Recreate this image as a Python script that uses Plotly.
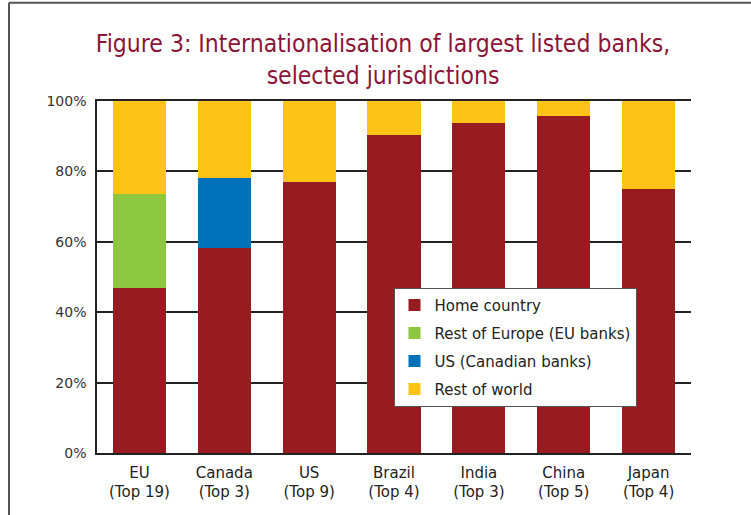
import plotly.graph_objects as go

# Share of activity by location, largest listed banks (%)
categories = ["EU<br>(Top 19)", "Canada<br>(Top 3)", "US<br>(Top 9)", "Brazil<br>(Top 4)",
              "India<br>(Top 3)", "China<br>(Top 5)", "Japan<br>(Top 4)"]
home_country = [46.8, 58.1, 76.9, 90.4, 93.8, 95.8, 75.0]
rest_of_europe = [26.7, 0, 0, 0, 0, 0, 0]
us_canadian = [0, 20.1, 0, 0, 0, 0, 0]
rest_of_world = [round(100 - h - e - u, 1) for h, e, u in zip(home_country, rest_of_europe, us_canadian)]
y_ticks = [0, 20, 40, 60, 80, 100]
y_tick_labels = ["0%", "20%", "40%", "60%", "80%", "100%"]

series = [
    ("Home country", home_country, "#971B20"),
    ("Rest of Europe (EU banks)", rest_of_europe, "#8DC63F"),
    ("US (Canadian banks)", us_canadian, "#0072BC"),
    ("Rest of world", rest_of_world, "#FDC316"),
]

fig = go.Figure()
for name, values, colour in series:
    fig.add_trace(go.Bar(
        x=categories, y=values, name=name, legendgroup=name,
        marker=dict(color=colour, line=dict(width=0)),
        hoverinfo="x+y+name",
    ))

L, R, T, B = 97, 60, 100.5, 62
W, H = 751, 515
pw, ph = W - L - R, H - T - B

def px_x(p):
    return (p - L) / pw

def px_y(p):
    return (H - B - p) / ph

fig.update_layout(
    width=W, height=H,
    margin=dict(l=L, r=R, t=T, b=B, pad=0),
    barmode="stack", bargap=0.375,
    plot_bgcolor="white", paper_bgcolor="white",
    font=dict(family="DejaVu Sans", size=15, color="#222"),
    title=dict(
        text="Figure 3: Internationalisation of largest listed banks,<br>selected jurisdictions",
        font=dict(family="Liberation Sans Narrow, DejaVu Sans Condensed, sans-serif", size=24.5, color="#8A1538"),
        x=0.51, xanchor="center", xref="container",
        y=0.899, yanchor="top", yref="container",
    ),
    xaxis=dict(
        showline=True, linecolor="#222", linewidth=1.5, mirror=True,
        showgrid=False, ticks="", tickfont=dict(size=15, color="#222"),
        ticklabelstandoff=5, fixedrange=True,
    ),
    yaxis=dict(
        range=[0, 100], tickmode="array", tickvals=y_ticks, ticktext=y_tick_labels,
        showline=True, linecolor="#222", linewidth=1.5,
        showgrid=True, gridcolor="#222", gridwidth=1.5, zeroline=False,
        ticks="", tickfont=dict(size=14, color="#333"), ticklabelstandoff=6,
        fixedrange=True,
    ),
    legend=dict(
        x=px_x(393.5), xanchor="left", y=px_y(287.5), yanchor="top",
        bgcolor="white", bordercolor="#555", borderwidth=1,
        font=dict(size=15, color="#222"), tracegroupgap=5.5,
        traceorder="grouped",
    ),
    shapes=[
        dict(type="line", xref="paper", yref="paper", x0=px_x(9), x1=px_x(9), y0=px_y(2), y1=px_y(515),
             line=dict(color="#555", width=2)),
        dict(type="line", xref="paper", yref="paper", x0=px_x(9), x1=px_x(751), y0=px_y(2), y1=px_y(2),
             line=dict(color="#555", width=2)),
    ],
)

fig.write_html("out.html")
